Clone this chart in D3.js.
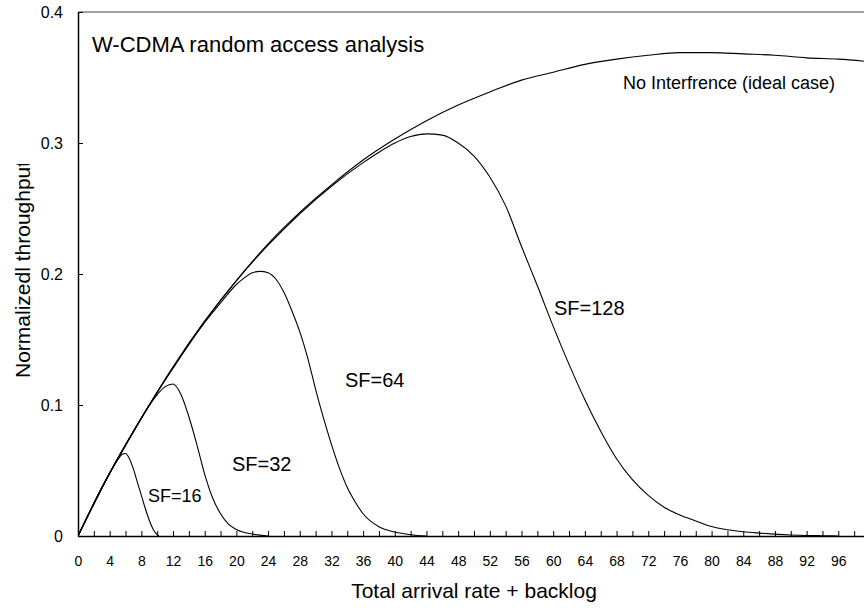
<!DOCTYPE html>
<html>
<head>
  <meta charset="utf-8">
  <script src="https://cdn.jsdelivr.net/npm/d3@7"></script>
  <style>
body { margin: 0; background: #fff; }
svg { display: block; font-family: "Liberation Sans", Arial, sans-serif; }
.curve { fill: none; stroke: #000; stroke-width: 1.1px; }
.axis path, .axis line { stroke: #000; }
.axis text { font-size: 14px; fill: #000; font-family: "Liberation Sans", Arial, sans-serif; }
.note { fill: #000; }
  </style>
</head>
<body>
<svg width="864" height="608"></svg>
<script>

// values
const idealX = [0, 4, 8, 12, 16, 20, 24, 28, 32, 36, 40, 44, 48, 52, 56, 60, 64, 68, 72, 76, 80, 84, 88, 92, 96, 100];
const idealY = [0, 0.048, 0.090, 0.129, 0.164, 0.195, 0.223, 0.247, 0.268, 0.287, 0.303, 0.317, 0.329, 0.339, 0.348, 0.354, 0.360, 0.364, 0.367, 0.369, 0.369, 0.368, 0.367, 0.365, 0.364, 0.362];

const sf16X = [0, 1, 2, 3, 4, 5, 5.5, 6, 6.5, 7, 7.5, 8, 8.5, 9, 9.5, 10, 10.2];
const sf16Y = [0, 0.0125, 0.025, 0.037, 0.048, 0.058, 0.062, 0.063, 0.059, 0.051, 0.041, 0.031, 0.021, 0.012, 0.005, 0.001, 0];

const sf32X = [0, 2, 4, 6, 8, 10, 11, 12, 13, 14, 15, 16, 17, 18, 19, 20, 22, 24];
const sf32Y = [0, 0.025, 0.048, 0.069, 0.090, 0.108, 0.114, 0.116, 0.108, 0.091, 0.070, 0.047, 0.029, 0.017, 0.009, 0.005, 0.0015, 0];

const sf64X = [0, 4, 8, 12, 16, 18, 20, 21, 22, 23, 24, 25, 26, 27, 28, 29, 30, 31, 32, 33, 34, 35, 36, 38, 40, 42, 44];
const sf64Y = [0, 0.048, 0.090, 0.128, 0.163, 0.178, 0.192, 0.197, 0.201, 0.202, 0.201, 0.196, 0.186, 0.172, 0.156, 0.136, 0.112, 0.090, 0.070, 0.052, 0.037, 0.026, 0.017, 0.007, 0.003, 0.001, 0];

const sf128X = [0, 4, 8, 12, 16, 20, 24, 28, 32, 36, 38, 40, 42, 44, 46, 48, 50, 52, 54, 56, 58, 60, 62, 64, 66, 68, 70, 72, 74, 76, 78, 80, 82, 84, 86, 88, 90, 92, 94, 96];
const sf128Y = [0, 0.048, 0.090, 0.129, 0.164, 0.195, 0.222, 0.246, 0.267, 0.285, 0.293, 0.300, 0.305, 0.307, 0.306, 0.300, 0.290, 0.274, 0.252, 0.221, 0.191, 0.160, 0.131, 0.104, 0.080, 0.059, 0.043, 0.031, 0.022, 0.016, 0.0115, 0.0072, 0.0048, 0.0032, 0.0022, 0.0014, 0.0008, 0.0004, 0.0002, 0];

const xTicks = d3.range(0, 99, 2);
const yTicks = [0, 0.1, 0.2, 0.3, 0.4];

const series = [
  {name: "ideal", xs: idealX, ys: idealY},
  {name: "sf16", xs: sf16X, ys: sf16Y},
  {name: "sf32", xs: sf32X, ys: sf32Y},
  {name: "sf64", xs: sf64X, ys: sf64Y},
  {name: "sf128", xs: sf128X, ys: sf128Y}
];

var svg = d3.select("svg"),
    pLeft = 78, pTop = 12, pBottom = 536, pRight = 870;

var x = d3.scaleLinear().domain([0, 100]).range([pLeft, pRight]);
var y = d3.scaleLinear().domain([0, 0.4]).range([pBottom, pTop]);

svg.append("clipPath").attr("id", "plot")
   .append("rect").attr("x", pLeft).attr("y", pTop - 1).attr("width", pRight - pLeft).attr("height", pBottom - pTop + 1);

// the y title is cut off at its top end in the original
svg.append("clipPath").attr("id", "ylab")
   .append("rect").attr("x", 0).attr("y", 164).attr("width", 60).attr("height", 440);

// frame top (grey)
svg.append("line")
   .attr("x1", pLeft).attr("x2", 864)
   .attr("y1", pTop).attr("y2", pTop)
   .attr("stroke", "#808080").attr("stroke-width", 1.5);

var line = d3.line()
             .x(d => x(d[0]))
             .y(d => y(d[1]))
             .curve(d3.curveMonotoneX);

svg.append("g")
   .attr("clip-path", "url(#plot)")
   .selectAll("path")
   .data(series)
   .enter().append("path")
   .attr("class", "curve")
   .attr("d", s => line(s.xs.map((v, i) => [v, s.ys[i]])));

var xAxis = d3.axisBottom(x)
              .tickValues(xTicks)
              .tickSizeInner(-5)
              .tickSizeOuter(0)
              .tickPadding(20)
              .tickFormat(d => d % 4 === 0 ? d : "");

svg.append("g")
   .attr("class", "axis")
   .attr("transform", `translate(0,${pBottom})`)
   .call(xAxis)
   .call(g => g.select(".domain").attr("stroke-width", 1.5));

var yAxis = d3.axisLeft(y)
              .tickValues(yTicks)
              .tickSizeInner(-5)
              .tickSizeOuter(0)
              .tickPadding(15)
              .tickFormat(d => d === 0 ? "0" : d.toFixed(1));

svg.append("g")
   .attr("class", "axis")
   .attr("transform", `translate(${pLeft},0)`)
   .call(yAxis)
   .call(g => g.select(".domain").attr("stroke-width", 1.5))
   .call(g => g.selectAll(".tick line").attr("stroke", "#666"))
   .call(g => g.selectAll("text").style("font-size", "16px"));

// texts
svg.append("text")
   .attr("x", 92).attr("y", 52)
   .style("font-size", "22px")
   .text("W-CDMA random access analysis");

svg.append("text")
   .attr("x", 623).attr("y", 89)
   .style("font-size", "18px")
   .text("No Interfrence (ideal case)");

const notes = [["SF=16", 148, 502, 18], ["SF=32", 232, 471, 20], ["SF=64", 345, 387, 20], ["SF=128", 554, 315, 20]];
svg.selectAll("text.note")
   .data(notes)
   .enter().append("text")
   .attr("class", "note")
   .attr("x", d => d[1]).attr("y", d => d[2])
   .style("font-size", d => d[3] + "px")
   .text(d => d[0]);

svg.append("text")
   .attr("x", 474).attr("y", 598)
   .attr("text-anchor", "middle")
   .style("font-size", "21px")
   .text("Total arrival rate + backlog");

svg.append("g")
   .attr("clip-path", "url(#ylab)")
   .append("text")
   .attr("transform", "translate(30,378) rotate(-90)")
   .style("font-size", "21px")
   .text("Normalizedl throughput");

</script>
</body>
</html>
